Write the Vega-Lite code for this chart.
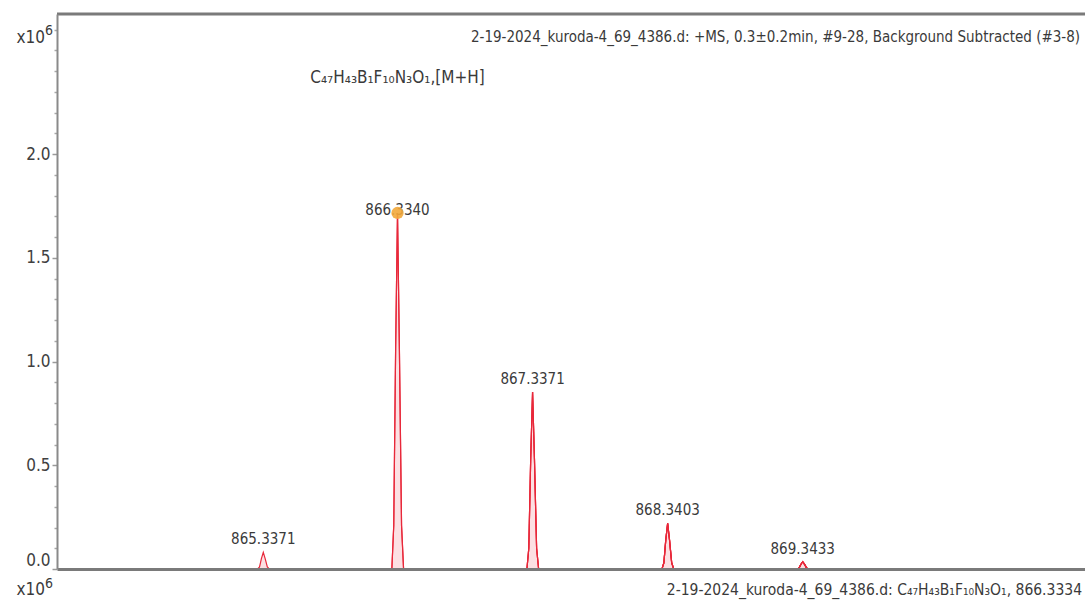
{
  "$schema": "https://vega.github.io/schema/vega-lite/v6.json",
  "width": 1028,
  "height": 555,
  "autosize": {"type": "none"},
  "padding": {"left": 57, "top": 14, "right": 0, "bottom": 36},
  "background": "white",
  "config": {"view": {"stroke": null}, "font": "DejaVu Sans Condensed", "text": {"font": "DejaVu Sans Condensed", "color": "#3a3a3a"}},
  "resolve": {"axis": {"y": "independent"}},
  "datasets": {
    "profile": [
      {"peak": "865.3371", "mz": 865.2951, "intensity": 0},
      {"peak": "865.3371", "mz": 865.3091, "intensity": 0.01},
      {"peak": "865.3371", "mz": 865.3231, "intensity": 0.05},
      {"peak": "865.3371", "mz": 865.3371, "intensity": 0.08},
      {"peak": "865.3371", "mz": 865.3511, "intensity": 0.05},
      {"peak": "865.3371", "mz": 865.3671, "intensity": 0.01},
      {"peak": "865.3371", "mz": 865.3821, "intensity": 0},
      {"peak": "866.3340", "mz": 866.2920, "intensity": 0},
      {"peak": "866.3340", "mz": 866.3060, "intensity": 0.21},
      {"peak": "866.3340", "mz": 866.3200, "intensity": 1.06},
      {"peak": "866.3340", "mz": 866.3340, "intensity": 1.716},
      {"peak": "866.3340", "mz": 866.3480, "intensity": 1.06},
      {"peak": "866.3340", "mz": 866.3640, "intensity": 0.21},
      {"peak": "866.3340", "mz": 866.3790, "intensity": 0},
      {"peak": "867.3371", "mz": 867.2951, "intensity": 0},
      {"peak": "867.3371", "mz": 867.3091, "intensity": 0.10},
      {"peak": "867.3371", "mz": 867.3231, "intensity": 0.53},
      {"peak": "867.3371", "mz": 867.3371, "intensity": 0.853},
      {"peak": "867.3371", "mz": 867.3511, "intensity": 0.53},
      {"peak": "867.3371", "mz": 867.3671, "intensity": 0.10},
      {"peak": "867.3371", "mz": 867.3821, "intensity": 0},
      {"peak": "868.3403", "mz": 868.2983, "intensity": 0},
      {"peak": "868.3403", "mz": 868.3123, "intensity": 0.03},
      {"peak": "868.3403", "mz": 868.3263, "intensity": 0.14},
      {"peak": "868.3403", "mz": 868.3403, "intensity": 0.22},
      {"peak": "868.3403", "mz": 868.3543, "intensity": 0.14},
      {"peak": "868.3403", "mz": 868.3703, "intensity": 0.03},
      {"peak": "868.3403", "mz": 868.3853, "intensity": 0},
      {"peak": "869.3433", "mz": 869.3013, "intensity": 0},
      {"peak": "869.3433", "mz": 869.3153, "intensity": 0.004},
      {"peak": "869.3433", "mz": 869.3293, "intensity": 0.022},
      {"peak": "869.3433", "mz": 869.3433, "intensity": 0.035},
      {"peak": "869.3433", "mz": 869.3573, "intensity": 0.022},
      {"peak": "869.3433", "mz": 869.3733, "intensity": 0.004},
      {"peak": "869.3433", "mz": 869.3883, "intensity": 0}
    ],
    "peaks": [
      {"label": "865.3371", "mz": 865.3371, "intensity": 0.08},
      {"label": "866.3340", "mz": 866.3340, "intensity": 1.716},
      {"label": "867.3371", "mz": 867.3371, "intensity": 0.853},
      {"label": "868.3403", "mz": 868.3403, "intensity": 0.22},
      {"label": "869.3433", "mz": 869.3433, "intensity": 0.035}
    ]
  },
  "layer": [
    {
      "data": {"name": "profile"},
      "mark": {"type": "area", "fill": "#fbd3d7", "interpolate": "linear", "line": {"color": "#e8283a", "strokeWidth": 1.2}},
      "encoding": {
        "x": {"field": "mz", "type": "quantitative",
              "scale": {"domain": [863.805, 871.44], "nice": false, "zero": false},
              "axis": {"orient": "bottom", "title": null, "labels": false, "ticks": false, "grid": false, "domainColor": "#7a7a7a", "domainWidth": 3, "zindex": 1}},
        "y": {"field": "intensity", "type": "quantitative",
              "scale": {"domain": [0, 2.675], "nice": false, "zero": true},
              "axis": {"orient": "left", "title": null, "grid": false,
                       "values": [0, 0.5, 1, 1.5, 2],
                       "format": ".1f",
                       "tickSize": 5, "tickColor": "#9a9a9a", "tickWidth": 1.5,
                       "domainColor": "#8a8a8a", "domainWidth": 2,
                       "labelFont": "DejaVu Sans Condensed", "labelFontSize": 17, "labelColor": "#404040",
                       "labelPadding": 2, "labelFlush": true, "labelOverlap": false, "zindex": 1}},
        "detail": {"field": "peak"}
      }
    },
    {
      "data": {"name": "profile"},
      "mark": {"type": "point", "opacity": 0},
      "encoding": {
        "x": {"field": "mz", "type": "quantitative"},
        "y": {"field": "intensity", "type": "quantitative",
              "axis": {"orient": "right", "offset": -1028, "title": null, "grid": false, "labels": false, "domain": false,
                       "values": [0.1,0.2,0.3,0.4,0.6,0.7,0.8,0.9,1.1,1.2,1.3,1.4,1.6,1.7,1.8,1.9,2.1,2.2,2.3,2.4,2.5,2.6],
                       "tickSize": -3, "tickColor": "#a8a8a8", "tickWidth": 1.5}}
      }
    },
    {
      "data": {"values": [{}]},
      "mark": {"type": "rule", "color": "#7a7a7a", "strokeWidth": 3},
      "encoding": {"y": {"datum": 2.675, "axis": null}}
    },
    {
      "data": {"name": "peaks"},
      "mark": {"type": "text", "baseline": "bottom", "align": "center", "fontSize": 15, "dy": {"expr": "datum.label == '866.3340' ? 5 : -5"}},
      "encoding": {
        "x": {"field": "mz", "type": "quantitative"},
        "y": {"field": "intensity", "type": "quantitative", "axis": null},
        "text": {"field": "label"}
      }
    },
    {
      "data": {"name": "peaks"},
      "transform": [{"filter": "datum.label == '866.3340'"}],
      "mark": {"type": "point", "filled": true, "color": "#f2a93b", "size": 150, "opacity": 0.9},
      "encoding": {
        "x": {"field": "mz", "type": "quantitative"},
        "y": {"field": "intensity", "type": "quantitative", "axis": null}
      }
    },
    {
      "data": {"values": [{}]},
      "mark": {"type": "text", "align": "right", "baseline": "middle", "fontSize": 15},
      "encoding": {"x": {"datum": 871.403}, "y": {"datum": 2.564, "axis": null}, "text": {"value": "2-19-2024_kuroda-4_69_4386.d: +MS, 0.3±0.2min, #9-28, Background Subtracted (#3-8)"}}
    },
    {
      "data": {"values": [{}]},
      "mark": {"type": "text", "align": "center", "baseline": "middle", "fontSize": 17},
      "encoding": {"x": {"datum": 866.334}, "y": {"datum": 2.366, "axis": null}, "text": {"value": "C₄₇H₄₃B₁F₁₀N₃O₁,[M+H]"}}
    },
    {
      "data": {"values": [{}]},
      "mark": {"type": "text", "align": "right", "baseline": "middle", "fontSize": 17},
      "encoding": {"x": {"datum": 863.716}, "y": {"datum": 2.559, "axis": null}, "text": {"value": "x10"}}
    },
    {
      "data": {"values": [{}]},
      "mark": {"type": "text", "align": "left", "baseline": "middle", "fontSize": 14},
      "encoding": {"x": {"datum": 863.716}, "y": {"datum": 2.593, "axis": null}, "text": {"value": "6"}}
    },
    {
      "data": {"values": [{}]},
      "mark": {"type": "text", "align": "right", "baseline": "middle", "fontSize": 17},
      "encoding": {"x": {"datum": 863.716}, "y": {"datum": -0.101, "axis": null}, "text": {"value": "x10"}}
    },
    {
      "data": {"values": [{}]},
      "mark": {"type": "text", "align": "left", "baseline": "middle", "fontSize": 14},
      "encoding": {"x": {"datum": 863.716}, "y": {"datum": -0.072, "axis": null}, "text": {"value": "6"}}
    },
    {
      "data": {"values": [{}]},
      "mark": {"type": "text", "align": "right", "baseline": "middle", "fontSize": 15.5},
      "encoding": {"x": {"datum": 871.418}, "y": {"datum": -0.101, "axis": null}, "text": {"value": "2-19-2024_kuroda-4_69_4386.d: C₄₇H₄₃B₁F₁₀N₃O₁, 866.3334"}}
    }
  ]
}
